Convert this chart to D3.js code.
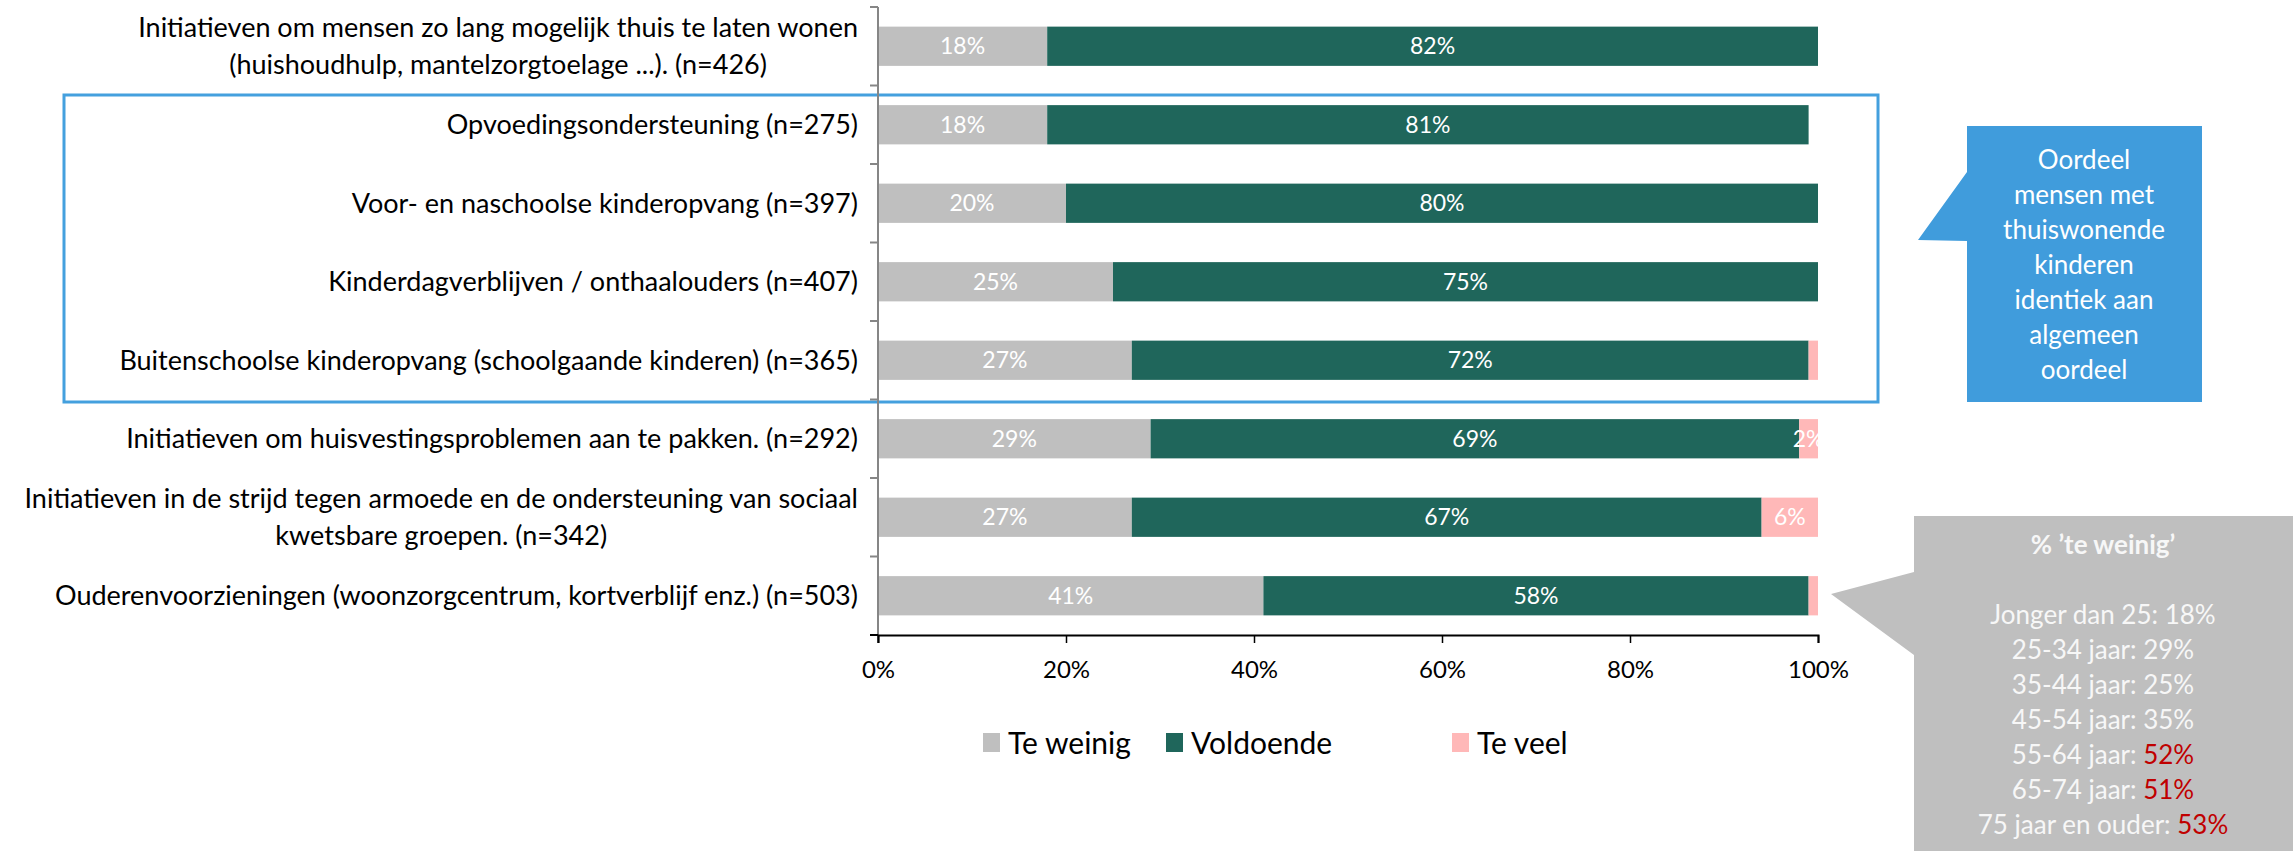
<!DOCTYPE html>
<html>
<head>
<meta charset="utf-8">
<script src="https://cdn.jsdelivr.net/npm/d3@7"></script>
<style>
  html, body { margin: 0; padding: 0; background: #ffffff; }
  svg { display: block; font-family: Lato, "Open Sans", sans-serif; }
</style>
</head>
<body>
<svg id="chart" width="2293" height="851"></svg>
<script>
// ---------- DATA ----------
const categories = [
  "Initiatieven om mensen zo lang mogelijk thuis te laten wonen\n(huishoudhulp, mantelzorgtoelage ...). (n=426)",
  "Opvoedingsondersteuning (n=275)",
  "Voor- en naschoolse kinderopvang (n=397)",
  "Kinderdagverblijven / onthaalouders (n=407)",
  "Buitenschoolse kinderopvang (schoolgaande kinderen) (n=365)",
  "Initiatieven om huisvestingsproblemen aan te pakken. (n=292)",
  "Initiatieven in de strijd tegen armoede en de ondersteuning van sociaal\nkwetsbare groepen. (n=342)",
  "Ouderenvoorzieningen (woonzorgcentrum, kortverblijf enz.) (n=503)"
];
const seriesNames = ["Te weinig", "Voldoende", "Te veel"];
const teWeinig  = [18, 18, 20, 25, 27, 29, 27, 41];
const voldoende = [82, 81, 80, 75, 72, 69, 67, 58];
const teVeel    = [0, 0, 0, 0, 1, 2, 6, 1];
const seriesColors = ["#bfbfbf", "#1f665b", "#ffb8b8"];
const xTicks = [0, 20, 40, 60, 80, 100];

const blueNote = ["Oordeel", "mensen met", "thuiswonende", "kinderen", "identiek aan", "algemeen", "oordeel"];
const greyTitle = "% \u2019te weinig\u2019";
const ageGroups = ["Jonger dan 25: ", "25-34 jaar: ", "35-44 jaar: ", "45-54 jaar: ", "55-64 jaar: ", "65-74 jaar: ", "75 jaar en ouder: "];
const ageValues = [18, 29, 25, 35, 52, 51, 53];
const ageHighlight = [false, false, false, false, true, true, true];

// ---------- CHART ----------
const svg = d3.select("#chart");
const x = d3.scaleLinear().domain([0, 100]).range([878, 1818]);
const y = d3.scaleBand().domain(d3.range(categories.length)).range([7, 635])
  .paddingInner(0.5).paddingOuter(0.25);

const rows = categories.map((c, i) => ({ i, vals: [teWeinig[i], voldoende[i], teVeel[i]] }));
const stack = d3.stack().keys([0, 1, 2]).value((d, k) => d.vals[k]);
const stacked = stack(rows);

// highlight box (behind)
svg.append("rect")
  .attr("x", 64).attr("y", 95).attr("width", 1814).attr("height", 307)
  .attr("fill", "none").attr("stroke", "#44a0de").attr("stroke-width", 3);

// bars
const layer = svg.append("g").selectAll("g").data(stacked).join("g")
  .attr("fill", (d, k) => seriesColors[k]);
layer.selectAll("rect").data(d => d).join("rect")
  .attr("x", d => x(d[0]))
  .attr("y", d => y(d.data.i))
  .attr("width", d => x(d[1]) - x(d[0]))
  .attr("height", y.bandwidth());

// value labels
const lbl = svg.append("g").attr("font-size", 23).attr("fill", "#ffffff")
  .attr("text-anchor", "middle");
stacked.forEach((s) => {
  s.forEach(d => {
    const v = d[1] - d[0];
    if (v >= 2) {
      lbl.append("text")
        .attr("x", (x(d[0]) + x(d[1])) / 2)
        .attr("y", y(d.data.i) + y.bandwidth() / 2)
        .attr("dy", "0.35em")
        .text(v + "%");
    }
  });
});

// vertical axis
const yAxisG = svg.append("g");
yAxisG.append("line")
  .attr("x1", x(0)).attr("x2", x(0))
  .attr("y1", y.range()[0]).attr("y2", y.range()[1] + 8)
  .attr("stroke", "#868686").attr("stroke-width", 2);
d3.range(categories.length + 1).forEach(k => {
  const yy = y.range()[0] + k * y.step();
  yAxisG.append("line")
    .attr("x1", x(0) - 8).attr("x2", x(0))
    .attr("y1", yy).attr("y2", yy)
    .attr("stroke", k === categories.length ? "#000" : "#868686").attr("stroke-width", 2);
});

// category labels
const catG = svg.append("g").attr("font-size", 27).attr("fill", "#000")
  .attr("text-anchor", "end");
categories.forEach((c, i) => {
  const lines = c.split("\n");
  const cy = y(i) + y.bandwidth() / 2;
  const lh = 37;
  const t = catG.append("text");
  lines.forEach((ln, j) => {
    t.append("tspan")
      .attr("x", 858)
      .attr("y", cy + (j - (lines.length - 1) / 2) * lh)
      .attr("dy", "0.35em")
      .text(ln);
  });
});
// second line of two-line labels is centred under the first line
catG.selectAll("text").each(function () {
  const tsp = d3.select(this).selectAll("tspan").nodes();
  if (tsp.length > 1) {
    const w0 = tsp[0].getComputedTextLength();
    const cx = 858 - w0 / 2;
    tsp.forEach((n, j) => { if (j > 0) d3.select(n).attr("x", cx).attr("text-anchor", "middle"); });
  }
});

// x axis
const xAxis = d3.axisBottom(x).tickValues(xTicks).tickFormat(d => d + "%").tickSize(8).tickPadding(18);
const xg = svg.append("g").attr("transform", `translate(0,${y.range()[1]})`).call(xAxis);
xg.select(".domain").attr("stroke", "#000").attr("stroke-width", 2);
xg.selectAll(".tick line").attr("stroke", "#000").attr("stroke-width", 1.5);
xg.selectAll(".tick text").attr("font-size", 24).attr("font-family", "Lato, sans-serif").attr("fill", "#000");

// legend
const legendX = [983, 1166, 1452];
const lg = svg.append("g");
seriesNames.forEach((n, k) => {
  lg.append("rect").attr("x", legendX[k]).attr("y", 733).attr("width", 17).attr("height", 19)
    .attr("fill", seriesColors[k]);
  lg.append("text").attr("x", legendX[k] + 25).attr("y", 743).attr("dy", "0.35em")
    .attr("font-size", 30).attr("fill", "#000").text(n);
});

// blue callout
svg.append("path")
  .attr("d", "M1967,126 H2202 V402 H1967 V241 L1918,240 L1967,172 Z")
  .attr("fill", "#409cdc");
const bt = svg.append("text").attr("text-anchor", "middle").attr("fill", "#ffffff")
  .attr("font-size", 26);
blueNote.forEach((ln, j) => {
  bt.append("tspan").attr("x", 2084).attr("y", 160 + j * 35).attr("dy", "0.35em").text(ln);
});

// grey callout
svg.append("path")
  .attr("d", "M1914,516 H2293 V851 H1914 V655 L1831,594 L1914,572 Z")
  .attr("fill", "#bfbfbf");
svg.append("text").attr("x", 2103).attr("y", 545).attr("dy", "0.35em")
  .attr("text-anchor", "middle").attr("font-weight", "bold").attr("font-size", 26)
  .attr("fill", "#f7f7f7").text(greyTitle);
const gt = svg.append("g").attr("font-size", 26).attr("text-anchor", "middle");
ageGroups.forEach((g, j) => {
  const t = gt.append("text").attr("x", 2103).attr("y", 615 + j * 35).attr("dy", "0.35em")
    .attr("fill", "#f7f7f7");
  t.append("tspan").text(g);
  t.append("tspan").attr("fill", ageHighlight[j] ? "#c00000" : "#f7f7f7").text(ageValues[j] + "%");
});
</script>
</body>
</html>
